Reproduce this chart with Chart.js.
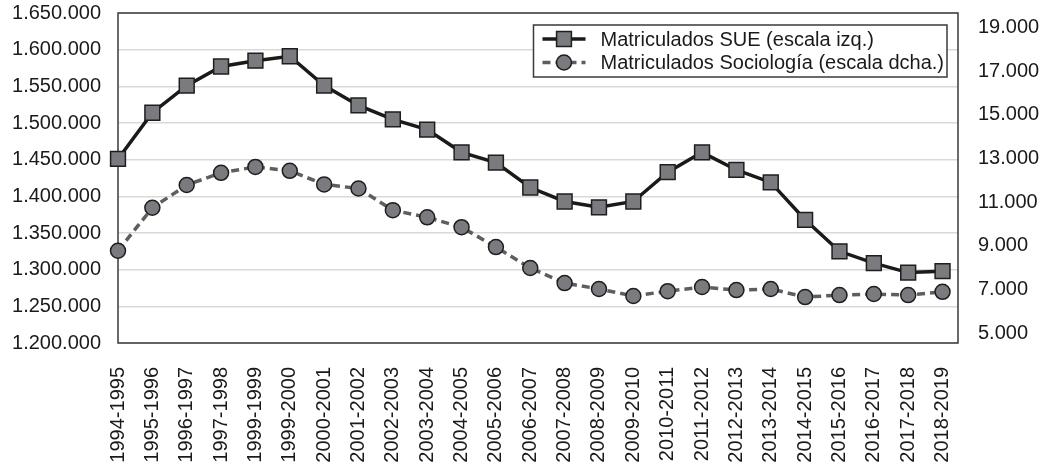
<!DOCTYPE html>
<html>
<head>
<meta charset="utf-8">
<script src="https://cdn.jsdelivr.net/npm/chart.js@4/dist/chart.umd.min.js"></script>
<style>
  html, body { margin: 0; padding: 0; background: #ffffff; }
  #wrap { width: 1055px; height: 469px; }
</style>
</head>
<body>
<div id="wrap"><canvas id="chart" width="1055" height="469"></canvas></div>
<script>
// Academic years (x axis)
const COURSES = [
    "1994-1995", "1995-1996", "1996-1997", "1997-1998", "1999-1999", "1999-2000",
    "2000-2001", "2001-2002", "2002-2003", "2003-2004", "2004-2005", "2005-2006",
    "2006-2007", "2007-2008", "2008-2009", "2009-2010", "2010-2011", "2011-2012",
    "2012-2013", "2013-2014", "2014-2015", "2015-2016", "2016-2017", "2017-2018",
    "2018-2019",
];

// Enrolment in the whole Spanish university system (left axis)
const SUE_ENROLLED = [
    1451000, 1514000, 1551000, 1577000, 1585000, 1591000,
    1551000, 1524000, 1505000, 1491000, 1460000, 1446000,
    1412000, 1393000, 1385000, 1393000, 1433000, 1460000,
    1436000, 1419000, 1368000, 1325000, 1309000, 1296000,
    1298000,
];

// Enrolment in Sociology (right axis)
const SOCIOLOGY_ENROLLED = [
    8780, 10750, 11790, 12350, 12620, 12440,
    11820, 11630, 10640, 10310, 9860, 8950,
    7990, 7300, 7030, 6710, 6930, 7120,
    6980, 7030, 6660, 6750, 6800, 6750,
    6900,
];

const LEFT_TICKS = { min: 1200000, max: 1650000, step: 50000 };
const RIGHT_TICKS = [5000, 7000, 9000, 11000, 13000, 15000, 17000, 19000];

const SERIES_LABELS = ["Matriculados SUE (escala izq.)", "Matriculados Sociología (escala dcha.)"];

const FONT = { family: "'Liberation Sans', Arial, Helvetica, sans-serif", size: 20 };
const TEXT_COLOR = "#1a1a1a";
const GRID_COLOR = "#d9d9d9";
const FRAME_COLOR = "#3a3a3a";
const MARKER_FILL = "#7a7b7e";
const MARKER_EDGE = "#1e1e1e";

const SUE_STYLE = { color: "#1c1a19", width: 3.5, dash: [], point: "rect", radius: 10.5 };
const SOC_STYLE = { color: "#5e5e5e", width: 3.5, dash: [8, 5], point: "circle", radius: 7.5 };

function dots(value) {
    return String(value).replace(/\B(?=(\d{3})+(?!\d))/g, ".");
}

function toPoints(values) {
    return values.map((v, i) => ({ x: i, y: v }));
}

// Plot frame drawn under the markers (the first points sit on the left edge).
const framePlugin = {
    id: "plotFrame",
    beforeDatasetsDraw(chart) {
        const { ctx, chartArea: a } = chart;
        ctx.save();
        ctx.strokeStyle = FRAME_COLOR;
        ctx.lineWidth = 1.5;
        ctx.strokeRect(a.left, a.top, a.right - a.left, a.bottom - a.top);
        ctx.restore();
    },
};

function drawSample(ctx, x0, x1, y, style) {
    ctx.save();
    ctx.strokeStyle = style.color;
    ctx.lineWidth = style.width;
    ctx.setLineDash(style.dash);
    ctx.beginPath();
    ctx.moveTo(x0, y);
    ctx.lineTo(x1, y);
    ctx.stroke();
    ctx.setLineDash([]);
    ctx.fillStyle = MARKER_FILL;
    ctx.strokeStyle = MARKER_EDGE;
    ctx.lineWidth = 1.5;
    const cx = (x0 + x1) / 2;
    ctx.beginPath();
    if (style.point === "rect") {
        const s = style.radius * Math.SQRT1_2;
        ctx.rect(cx - s, y - s, 2 * s, 2 * s);
    } else {
        ctx.arc(cx, y, style.radius, 0, Math.PI * 2);
    }
    ctx.fill();
    ctx.stroke();
    ctx.restore();
}

// Boxed legend inside the top-right corner of the plot.
const boxLegendPlugin = {
    id: "boxLegend",
    afterDraw(chart) {
        const { ctx, chartArea: a } = chart;
        ctx.save();
        ctx.font = `20px ${FONT.family}`;
        const textWidth = Math.max(...SERIES_LABELS.map((t) => ctx.measureText(t).width));
        const right = a.right - 11;
        const left = right - textWidth - 70;
        const top = a.top + 12;
        const rowH = 23.5;
        const height = 52;
        ctx.fillStyle = "#ffffff";
        ctx.fillRect(left, top, right - left, height);
        ctx.strokeStyle = FRAME_COLOR;
        ctx.lineWidth = 1.5;
        ctx.strokeRect(left, top, right - left, height);
        [SUE_STYLE, SOC_STYLE].forEach((style, i) => {
            const y = top + 14 + i * rowH;
            drawSample(ctx, left + 9, left + 52, y, style);
            ctx.fillStyle = TEXT_COLOR;
            ctx.textBaseline = "middle";
            ctx.textAlign = "left";
            ctx.fillText(SERIES_LABELS[i], left + 67, y + 1);
        });
        ctx.restore();
    },
};

function dataset(label, values, style, axis) {
    return {
        label,
        data: toPoints(values),
        yAxisID: axis,
        borderColor: style.color,
        borderWidth: style.width,
        borderDash: style.dash,
        pointStyle: style.point,
        pointRadius: style.radius,
        pointBackgroundColor: MARKER_FILL,
        pointBorderColor: MARKER_EDGE,
        pointBorderWidth: 1.5,
        tension: 0,
        clip: false,
    };
}

// Keep the plot box where the reference has it: no automatic label overflow padding.
function fitVertical(width) {
    return (s) => { s.width = width; s.paddingTop = 0; s.paddingBottom = 0; };
}

new Chart(document.getElementById("chart").getContext("2d"), {
    type: "line",
    data: {
        datasets: [
            dataset(SERIES_LABELS[0], SUE_ENROLLED, SUE_STYLE, "y"),
            dataset(SERIES_LABELS[1], SOCIOLOGY_ENROLLED, SOC_STYLE, "y1"),
        ],
    },
    options: {
        responsive: false,
        animation: false,
        layout: { padding: { top: 13, left: 0, right: 0, bottom: 0 } },
        scales: {
            x: {
                type: "linear",
                min: 0,
                max: COURSES.length - 1 + 0.45,
                afterBuildTicks: (s) => { s.ticks = COURSES.map((_, i) => ({ value: i })); },
                afterFit: (s) => { s.height = 126; s.paddingLeft = 0; s.paddingRight = 0; },
                grid: { display: false, drawTicks: false },
                border: { display: false },
                ticks: {
                    autoSkip: false,
                    minRotation: 90,
                    maxRotation: 90,
                    padding: 24,
                    font: FONT,
                    color: TEXT_COLOR,
                    callback: (v) => COURSES[v],
                },
            },
            y: {
                position: "left",
                min: LEFT_TICKS.min,
                max: LEFT_TICKS.max,
                afterFit: fitVertical(118),
                grid: { color: GRID_COLOR, lineWidth: 1.5, drawTicks: false },
                border: { display: false },
                ticks: {
                    stepSize: LEFT_TICKS.step,
                    padding: 17,
                    font: FONT,
                    color: TEXT_COLOR,
                    callback: (v) => dots(v),
                },
            },
            y1: {
                position: "right",
                min: 4556,
                max: 19668,
                afterBuildTicks: (s) => { s.ticks = RIGHT_TICKS.map((v) => ({ value: v })); },
                afterFit: fitVertical(97),
                grid: { display: false, drawTicks: false },
                border: { display: false },
                ticks: {
                    padding: 20,
                    font: FONT,
                    color: TEXT_COLOR,
                    callback: (v) => dots(v),
                },
            },
        },
        plugins: { legend: { display: false }, tooltip: { enabled: false } },
    },
    plugins: [framePlugin, boxLegendPlugin],
});
</script>
</body>
</html>
